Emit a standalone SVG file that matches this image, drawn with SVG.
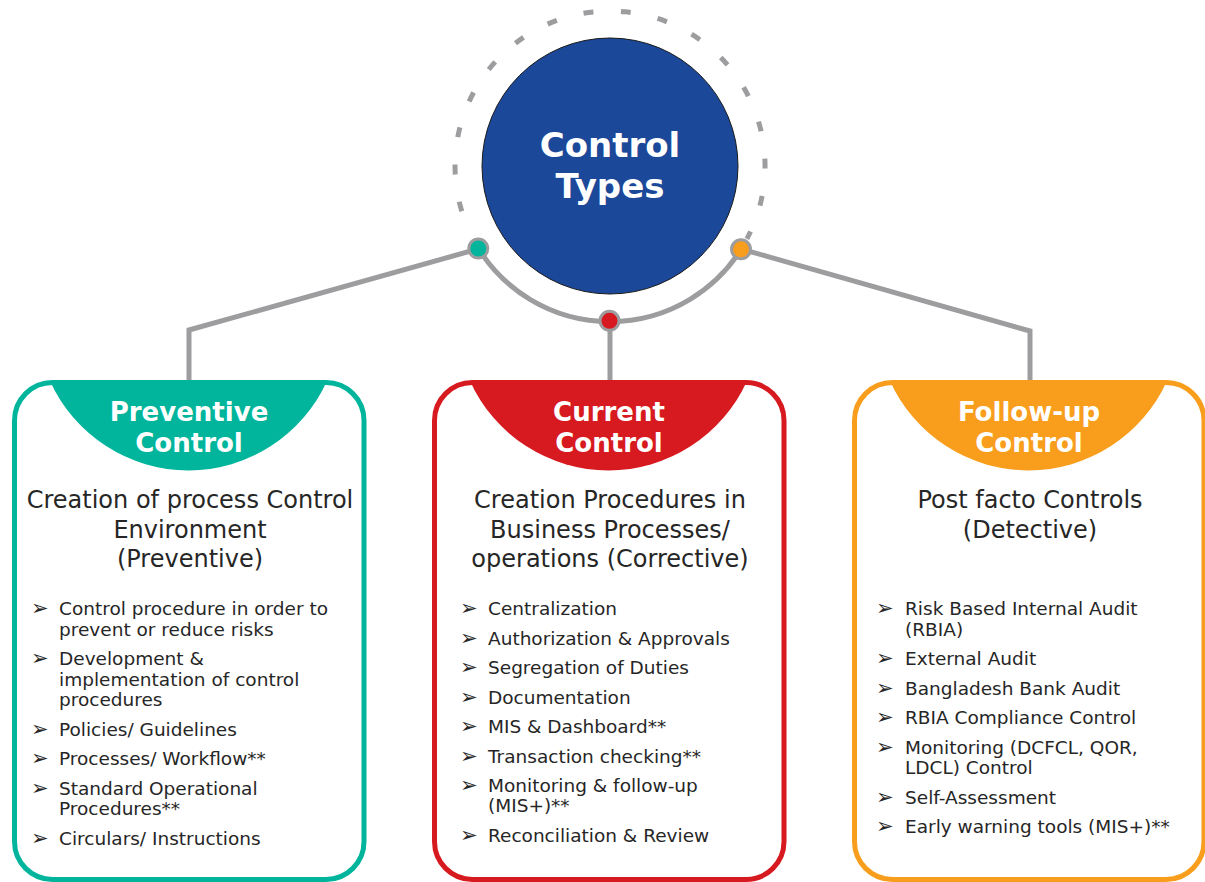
<svg xmlns="http://www.w3.org/2000/svg" width="1205" height="882" viewBox="0 0 1205 882">
<style>
.box{fill:#fff;stroke-width:5}
.ttl{font-family:"DejaVu Sans",Verdana,sans-serif;font-weight:bold;font-size:26px;fill:#fff;text-anchor:middle}
.sub{font-family:"DejaVu Sans",Verdana,sans-serif;font-size:24px;fill:#262626;text-anchor:middle}
.li{font-family:"DejaVu Sans",Verdana,sans-serif;font-size:18.5px;fill:#262626}
.bu{font-family:"DejaVu Sans",sans-serif;font-size:21px;fill:#262626}
.con{fill:none;stroke:#9d9d9f;stroke-width:5;stroke-linejoin:miter}
.dot{stroke:#9d9d9f;stroke-width:3}
</style>
<rect width="1205" height="882" fill="#fff"/>
<g id="connectors">
<path class="con" d="M478 249 L189 330 L189 383"/>
<path class="con" d="M741 249 L1030 331 L1030 383"/>
<path class="con" d="M610 321 L610 383"/>
<path class="con" d="M478.3 248.3 A155 155 0 0 0 741.7 248.3"/>
<path class="con" d="M461.8 211.3 A155 155 0 1 1 746.9 238.8" stroke-dasharray="10 27.5"/>
</g>
<g id="center">
<circle cx="610" cy="166" r="128" fill="#1b4899" stroke="#1a1a1a" stroke-width="1"/>
<text class="ttl" x="610" y="157" style="font-size:34px">Control</text>
<text class="ttl" x="610" y="198" style="font-size:34px">Types</text>
</g>
<g id="dots">
<circle class="dot" cx="478.3" cy="248.5" r="9.5" fill="#00b59c"/>
<circle class="dot" cx="609.5" cy="320.8" r="9.5" fill="#d71920"/>
<circle class="dot" cx="741" cy="249.3" r="9.5" fill="#f99d1c"/>
</g>
<g id="preventive">
<rect class="box" x="14.5" y="382.5" width="349.5" height="497" rx="38" stroke="#00b59c"/>
<path d="M50 381 A152 152 0 0 0 327 381 Z" fill="#00b59c"/>
<text class="ttl" x="189" y="421">Preventive</text>
<text class="ttl" x="189" y="452">Control</text>
<text class="sub" x="190" y="508">Creation of process Control</text>
<text class="sub" x="190" y="537.5">Environment</text>
<text class="sub" x="190" y="567">(Preventive)</text>
<g class="bu"><text x="31" y="615">➢</text><text x="31" y="665">➢</text><text x="31" y="736">➢</text><text x="31" y="765">➢</text><text x="31" y="795">➢</text><text x="31" y="845">➢</text></g>
<text class="li" x="59" y="615">Control procedure in order to</text>
<text class="li" x="59" y="636">prevent or reduce risks</text>
<text class="li" x="59" y="665">Development &amp;</text>
<text class="li" x="59" y="686">implementation of control</text>
<text class="li" x="59" y="706">procedures</text>
<text class="li" x="59" y="736">Policies/ Guidelines</text>
<text class="li" x="59" y="765">Processes/ Workflow**</text>
<text class="li" x="59" y="795">Standard Operational</text>
<text class="li" x="59" y="815">Procedures**</text>
<text class="li" x="59" y="845">Circulars/ Instructions</text>
</g>
<g id="current">
<rect class="box" x="434.5" y="382.5" width="349.5" height="497" rx="38" stroke="#d71920"/>
<path d="M470 381 A152 152 0 0 0 747 381 Z" fill="#d71920"/>
<text class="ttl" x="609" y="421">Current</text>
<text class="ttl" x="609" y="452">Control</text>
<text class="sub" x="610" y="508">Creation Procedures in</text>
<text class="sub" x="610" y="537.5">Business Processes/</text>
<text class="sub" x="610" y="567">operations (Corrective)</text>
<g class="bu"><text x="460" y="615">➢</text><text x="460" y="645">➢</text><text x="460" y="674">➢</text><text x="460" y="704">➢</text><text x="460" y="733">➢</text><text x="460" y="763">➢</text><text x="460" y="792">➢</text><text x="460" y="842">➢</text></g>
<text class="li" x="488" y="615">Centralization</text>
<text class="li" x="488" y="645">Authorization &amp; Approvals</text>
<text class="li" x="488" y="674">Segregation of Duties</text>
<text class="li" x="488" y="704">Documentation</text>
<text class="li" x="488" y="733">MIS &amp; Dashboard**</text>
<text class="li" x="488" y="763">Transaction checking**</text>
<text class="li" x="488" y="792">Monitoring &amp; follow-up</text>
<text class="li" x="488" y="812">(MIS+)**</text>
<text class="li" x="488" y="842">Reconciliation &amp; Review</text>
</g>
<g id="followup">
<rect class="box" x="854.5" y="382.5" width="349.5" height="497" rx="38" stroke="#f99d1c"/>
<path d="M890 381 A152 152 0 0 0 1167 381 Z" fill="#f99d1c"/>
<text class="ttl" x="1029" y="421">Follow-up</text>
<text class="ttl" x="1029" y="452">Control</text>
<text class="sub" x="1030" y="508">Post facto Controls</text>
<text class="sub" x="1030" y="537.5">(Detective)</text>
<g class="bu"><text x="876" y="615">➢</text><text x="876" y="665">➢</text><text x="876" y="695">➢</text><text x="876" y="724">➢</text><text x="876" y="754">➢</text><text x="876" y="804">➢</text><text x="876" y="833">➢</text></g>
<text class="li" x="905" y="615">Risk Based Internal Audit</text>
<text class="li" x="905" y="636">(RBIA)</text>
<text class="li" x="905" y="665">External Audit</text>
<text class="li" x="905" y="695">Bangladesh Bank Audit</text>
<text class="li" x="905" y="724">RBIA Compliance Control</text>
<text class="li" x="905" y="754">Monitoring (DCFCL, QOR,</text>
<text class="li" x="905" y="774">LDCL) Control</text>
<text class="li" x="905" y="804">Self-Assessment</text>
<text class="li" x="905" y="833">Early warning tools (MIS+)**</text>
</g>
</svg>
